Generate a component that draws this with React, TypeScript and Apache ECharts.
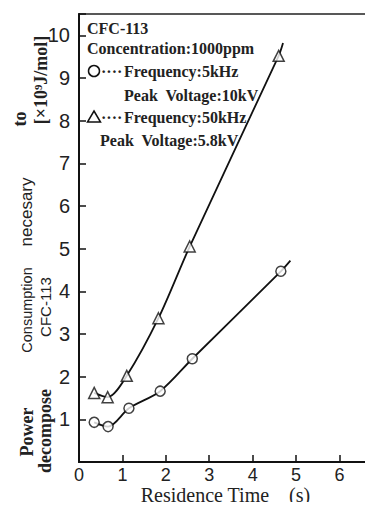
import React, { useEffect, useRef } from "react";
import * as echarts from "echarts";

// Frequency 5 kHz, Peak Voltage 10 kV (circles)
const time5k = [0.35, 0.67, 1.15, 1.87, 2.61, 4.65];
const power5k = [0.93, 0.83, 1.26, 1.66, 2.42, 4.47];
// Frequency 50 kHz, Peak Voltage 5.8 kV (triangles)
const time50k = [0.35, 0.66, 1.1, 1.83, 2.55, 4.6];
const power50k = [1.62, 1.52, 2.02, 3.37, 5.05, 9.52];
// where the drawn fitted curves end
const curveEnd5k = [4.87, 4.72];
const curveEnd50k = [4.7, 9.82];

const xTicks = [0, 1, 2, 3, 4, 5, 6];
const yTicks = [1, 2, 3, 4, 5, 6, 7, 8, 9, 10];

const legendLines = [
  "CFC-113",
  "Concentration:1000ppm",
  "Frequency:5kHz",
  "Peak  Voltage:10kV",
  "Frequency:50kHz",
  "Peak  Voltage:5.8kV",
];

const SERIF = "'Liberation Serif', 'DejaVu Serif', serif";
const SANS = "'Liberation Sans', 'DejaVu Sans', sans-serif";

export default function App() {
  const ref = useRef<HTMLDivElement>(null);
  useEffect(() => {
    if (!ref.current) return;
    const chart = echarts.init(ref.current, null, { renderer: "svg" });
    const pts5k = time5k.map((t, i) => [t, power5k[i]]);
    const pts50k = time50k.map((t, i) => [t, power50k[i]]);
    const legendPos = [
      [87, 20],
      [87, 40],
      [124, 63],
      [124, 87],
      [124, 109],
      [100, 132],
    ];
    const rotWords = [
      { t: "Power", x: 27, y: 432, f: SERIF, s: 18, w: "bold" },
      { t: "Consumption", x: 27, y: 310, f: SANS, s: 14.5, w: "normal" },
      { t: "necesary", x: 26, y: 212, f: SANS, s: 17, w: "normal" },
      { t: "to", x: 20, y: 119, f: SERIF, s: 18, w: "bold" },
      { t: "decompose", x: 45, y: 431, f: SERIF, s: 18, w: "bold" },
      { t: "CFC-113", x: 45, y: 307, f: SANS, s: 15, w: "normal" },
      { t: "[×10⁹J/mol]", x: 41, y: 80, f: SERIF, s: 18, w: "bold" },
    ];
    chart.setOption({
      animation: false,
      backgroundColor: "#fff",
      grid: {
        left: 79,
        right: 1,
        top: 14,
        bottom: 48,
        outerBoundsMode: "none",
        containLabel: false,
        show: true,
        borderColor: "#222",
        borderWidth: 1.5,
      },
      xAxis: {
        type: "value",
        min: 0,
        max: 6.75,
        interval: 1,
        axisLine: { lineStyle: { color: "#111", width: 2 } },
        axisTick: { inside: true, length: 7, lineStyle: { color: "#111", width: 1.5 } },
        axisLabel: {
          color: "#222",
          fontFamily: SANS,
          fontSize: 18,
          lineHeight: 17,
          margin: 4,
          formatter: (v: number) => (xTicks.includes(v) ? String(v) : ""),
        },
        splitLine: { show: false },
        name: "Residence Time    (s)",
        nameLocation: "middle",
        nameGap: 23,
        nameMoveOverlap: false,
        nameTextStyle: { color: "#222", fontFamily: SERIF, fontSize: 20, lineHeight: 20 },
      },
      yAxis: {
        type: "value",
        min: 0,
        max: 10.5,
        interval: 1,
        axisLine: { lineStyle: { color: "#111", width: 2 } },
        axisTick: { inside: true, length: 7, lineStyle: { color: "#111", width: 1.5 } },
        axisLabel: {
          color: "#222",
          fontFamily: SANS,
          fontSize: 20,
          margin: 9,
          formatter: (v: number) => (yTicks.includes(v) ? String(v) : ""),
        },
        splitLine: { show: false },
      },
      series: [
        {
          type: "line",
          data: [...pts5k, curveEnd5k],
          smooth: 0.3,
          showSymbol: false,
          lineStyle: { color: "#111", width: 1.8 },
          z: 2,
        },
        {
          type: "line",
          data: [...pts50k, curveEnd50k],
          smooth: 0.3,
          showSymbol: false,
          lineStyle: { color: "#111", width: 1.8 },
          z: 2,
        },
        {
          type: "scatter",
          data: pts5k,
          symbol: "circle",
          symbolSize: 10,
          itemStyle: { color: "#fff", borderColor: "#111", borderWidth: 1.5 },
          z: 3,
        },
        {
          type: "scatter",
          data: pts50k,
          symbol: "triangle",
          symbolSize: 11,
          itemStyle: { color: "#fff", borderColor: "#111", borderWidth: 1.5 },
          z: 3,
        },
      ],
      graphic: [
        ...legendLines.map((t, i) => ({
          type: "text",
          x: legendPos[i][0],
          y: legendPos[i][1],
          style: {
            text: t,
            fontFamily: SERIF,
            fontWeight: "bold",
            fontSize: 16,
            fill: "#222",
            verticalAlign: "top",
          },
        })),
        {
          type: "circle",
          shape: { cx: 94, cy: 71, r: 5.5 },
          style: { fill: "#fff", stroke: "#111", lineWidth: 1.5 },
        },
        {
          type: "polygon",
          shape: { points: [[94, 111], [100.5, 122], [87.5, 122]] },
          style: { fill: "#fff", stroke: "#111", lineWidth: 1.5 },
        },
        ...[71, 117].map((cy) => ({
          type: "text",
          x: 101,
          y: cy,
          style: {
            text: "····",
            fontFamily: SERIF,
            fontWeight: "bold",
            fontSize: 16,
            fill: "#222",
            verticalAlign: "middle",
          },
        })),
        ...rotWords.map((w) => ({
          type: "text",
          x: w.x,
          y: w.y,
          rotation: Math.PI / 2,
          style: {
            text: w.t,
            fontFamily: w.f,
            fontWeight: w.w,
            fontSize: w.s,
            fill: "#222",
            align: "center",
            verticalAlign: "middle",
          },
        })),
      ],
    });
    return () => chart.dispose();
  }, []);
  return <div ref={ref} style={{ width: 373, height: 510, margin: -8 }} />;
}
